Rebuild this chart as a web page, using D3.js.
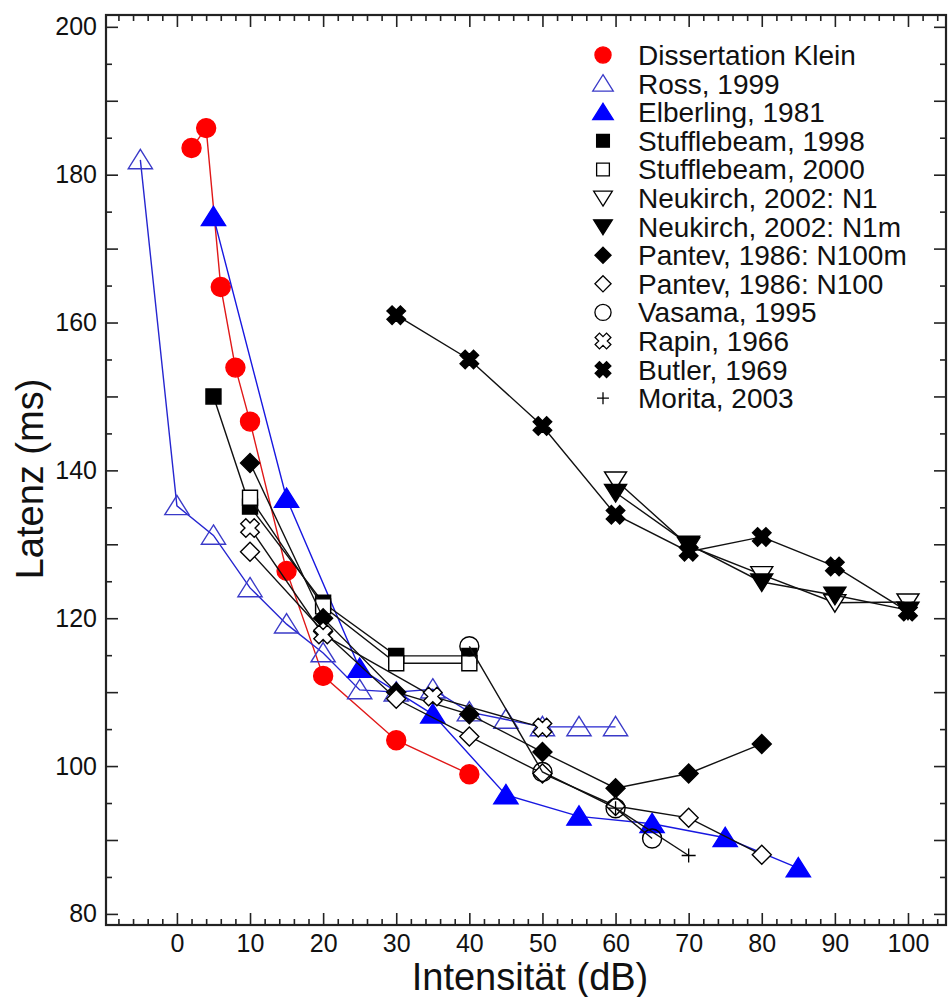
<!DOCTYPE html>
<html>
<head>
<meta charset="utf-8">
<script src="https://cdn.jsdelivr.net/npm/d3@7"></script>
<style>
  html, body { margin: 0; padding: 0; background: #fff; }
  svg { display: block; font-family: "Liberation Sans", Arial, sans-serif; }
</style>
</head>
<body>
<svg id="chart" width="948" height="997"></svg>
<script>
// ---------- data (intensity dB, latency ms) ----------
const seriesNames = ["Dissertation Klein", "Ross, 1999", "Elberling, 1981", "Stufflebeam, 1998",
  "Stufflebeam, 2000", "Neukirch, 2002: N1", "Neukirch, 2002: N1m", "Pantev, 1986: N100m",
  "Pantev, 1986: N100", "Vasama, 1995", "Rapin, 1966", "Butler, 1969", "Morita, 2003"];

const klein       = [[2,183.6],[4,186.3],[6,164.8],[8,153.9],[10,146.6],[15,126.4],[20,112.2],[30,103.5],[40,98.9]];
const ross        = [[-5,182],[0,135.2],[5,131.2],[10,124.1],[15,119.2],[20,115.3],[25,110.3],[30,110],[35,110.4],[40,107.3],[45,106.3],[50,105.3],[55,105.3],[60,105.3]];
const elberling   = [[5,174.3],[15,136.2],[25,113.2],[35,107],[45,96.1],[55,93.2],[65,92.2],[75,90.3],[85,86.2]];
const stuffle98   = [[5,150],[10,135.1],[20,122.1],[30,114.9],[40,114.9]];
const stuffle00   = [[10,136.3],[20,121.6],[30,113.9],[40,113.9]];
const neukirchN1  = [[60,138.7],[70,129.8],[80,125.9],[90,122.1],[100,122.2]];
const neukirchN1m = [[60,137],[70,130],[80,124.9],[90,123.1],[100,121.1]];
const pantevN100m = [[10,141],[20,120],[30,110],[40,107],[50,101.9],[60,97],[70,99],[80,103]];
const pantevN100  = [[10,129],[20,118.2],[30,109.1],[40,104],[50,99],[60,94.6],[70,93],[80,88]];
const vasama      = [[40,116.2],[50,99.2],[60,94.3],[65,90.2]];
const rapin       = [[10,132.2],[20,117.8],[35,109.4],[50,105.2]];
const butler      = [[30,161],[40,155],[50,146],[60,134],[70,129],[80,131],[90,127],[100,120.9]];
const morita      = [[60,94.3],[70,87.9]];

const xTickLabels = [0,10,20,30,40,50,60,70,80,90,100];
const yTickLabels = [80,100,120,140,160,180,200];

// ---------- styles ----------
const RED = "#ff0000", BLUE = "#0000ff", OBLUE = "#3a3ac8", BLK = "#000";
const series = [
  {name: seriesNames[0],  data: klein,       sym: "circle",  fill: RED,   stroke: RED,   line: "#e01818"},
  {name: seriesNames[1],  data: ross,        sym: "triUp",   fill: "none",stroke: OBLUE, line: "#2626d0"},
  {name: seriesNames[2],  data: elberling,   sym: "triUp",   fill: BLUE,  stroke: BLUE,  line: "#1818e0"},
  {name: seriesNames[3],  data: stuffle98,   sym: "square",  fill: BLK,   stroke: BLK,   line: "#111"},
  {name: seriesNames[4],  data: stuffle00,   sym: "square",  fill: "#fff",stroke: BLK,   line: "#111"},
  {name: seriesNames[5],  data: neukirchN1,  sym: "triDown", fill: "#fff",stroke: BLK,   line: "#111"},
  {name: seriesNames[6],  data: neukirchN1m, sym: "triDown", fill: BLK,   stroke: BLK,   line: "#111"},
  {name: seriesNames[7],  data: pantevN100m, sym: "diamond", fill: BLK,   stroke: BLK,   line: "#111"},
  {name: seriesNames[8],  data: pantevN100,  sym: "diamond", fill: "#fff",stroke: BLK,   line: "#111"},
  {name: seriesNames[9],  data: vasama,      sym: "circle",  fill: "none",stroke: BLK,   line: "#111"},
  {name: seriesNames[10], data: rapin,       sym: "cross",   fill: "#fff",stroke: BLK,   line: "#111"},
  {name: seriesNames[11], data: butler,      sym: "cross",   fill: BLK,   stroke: BLK,   line: "#111"},
  {name: seriesNames[12], data: morita,      sym: "plus",    fill: "none",stroke: BLK,   line: "#111"}
];

// ---------- layout ----------
const svg = d3.select("#chart");
const L = 106, R = 946, T = 15, B = 925;
const x = d3.scaleLinear().domain([-9.7, 105.2]).range([L, R]);
const y = d3.scaleLinear().domain([78.5, 201.6]).range([B, T]);

// symbol path generator, k = scale factor
function symbolPath(type, k) {
  const p = d3.path();
  if (type === "circle") {
    const r = 9.5 * k; p.arc(0, 0, r, 0, 2 * Math.PI); p.closePath();
  } else if (type === "triUp") {
    const r = 11 * k; p.moveTo(0, -r * 0.95); p.lineTo(r * 1.1, r * 0.8); p.lineTo(-r * 1.1, r * 0.8); p.closePath();
  } else if (type === "triDown") {
    const r = 10 * k; p.moveTo(0, r * 0.95); p.lineTo(r * 1.1, -r * 0.8); p.lineTo(-r * 1.1, -r * 0.8); p.closePath();
  } else if (type === "square") {
    const h = 7.5 * k; p.rect(-h, -h, 2 * h, 2 * h);
  } else if (type === "diamond") {
    const h = 9.5 * k; p.moveTo(0, -h); p.lineTo(h, 0); p.lineTo(0, h); p.lineTo(-h, 0); p.closePath();
  } else if (type === "cross") {
    const w = 3.6 * k, e = 9.5 * k;
    const pts = [[w,-e],[w,-w],[e,-w],[e,w],[w,w],[w,e],[-w,e],[-w,w],[-e,w],[-e,-w],[-w,-w],[-w,-e]];
    const c = Math.SQRT1_2;
    pts.forEach((q, i) => {
      const px = (q[0] - q[1]) * c, py = (q[0] + q[1]) * c;
      if (i === 0) p.moveTo(px, py); else p.lineTo(px, py);
    });
    p.closePath();
  } else if (type === "plus") {
    const h = 7 * k; p.moveTo(-h, 0); p.lineTo(h, 0); p.moveTo(0, -h); p.lineTo(0, h);
  }
  return p.toString();
}

// ---------- axes (ticks inward on all sides) ----------
const xMinor = d3.range(-8, 105, 2).filter(v => v % 10 !== 0);
const xMajor = d3.range(0, 101, 10);
const yMinor = d3.range(80, 201, 5).filter(v => v % 10 !== 0);
const yMajor = d3.range(80, 201, 10);
const fmtY = v => (yTickLabels.includes(v) ? String(v) : "");
const fmtX = v => (xTickLabels.includes(v) ? String(v) : "");

function styleAxis(g) {
  g.select(".domain").remove();
  g.selectAll(".tick line").attr("stroke", "#222").attr("stroke-width", 1.6);
  g.selectAll("text").attr("fill", "#111").style("font-size", "25px")
   .style("font-family", "'Liberation Sans', Arial, sans-serif");
}

// bottom
svg.append("g").attr("transform", `translate(0,${B})`)
  .call(d3.axisBottom(x).tickValues(xMinor).tickSizeInner(-6).tickSizeOuter(0).tickFormat(""))
  .call(styleAxis);
svg.append("g").attr("transform", `translate(0,${B})`)
  .call(d3.axisBottom(x).tickValues(xMajor).tickSizeInner(-12).tickSizeOuter(0).tickPadding(9).tickFormat(fmtX))
  .call(styleAxis);
// top
svg.append("g").attr("transform", `translate(0,${T})`)
  .call(d3.axisTop(x).tickValues(xMinor).tickSizeInner(-6).tickSizeOuter(0).tickFormat(""))
  .call(styleAxis);
svg.append("g").attr("transform", `translate(0,${T})`)
  .call(d3.axisTop(x).tickValues(xMajor).tickSizeInner(-12).tickSizeOuter(0).tickFormat(""))
  .call(styleAxis);
// left
svg.append("g").attr("transform", `translate(${L},0)`)
  .call(d3.axisLeft(y).tickValues(yMinor).tickSizeInner(-6).tickSizeOuter(0).tickFormat(""))
  .call(styleAxis);
svg.append("g").attr("transform", `translate(${L},0)`)
  .call(d3.axisLeft(y).tickValues(yMajor).tickSizeInner(-12).tickSizeOuter(0).tickPadding(9).tickFormat(fmtY))
  .call(styleAxis);
// right
svg.append("g").attr("transform", `translate(${R},0)`)
  .call(d3.axisRight(y).tickValues(yMinor).tickSizeInner(-6).tickSizeOuter(0).tickFormat(""))
  .call(styleAxis);
svg.append("g").attr("transform", `translate(${R},0)`)
  .call(d3.axisRight(y).tickValues(yMajor).tickSizeInner(-12).tickSizeOuter(0).tickFormat(""))
  .call(styleAxis);

// frame
svg.append("rect").attr("x", L).attr("y", T).attr("width", R - L).attr("height", B - T)
  .attr("fill", "none").attr("stroke", "#222").attr("stroke-width", 2.2);

// axis titles
svg.append("text").attr("x", 530).attr("y", 990).attr("text-anchor", "middle")
  .style("font-size", "38px").attr("fill", "#111").text("Intensität (dB)");
svg.append("text").attr("transform", "translate(43,479) rotate(-90)").attr("text-anchor", "middle")
  .style("font-size", "38px").attr("fill", "#111").text("Latenz (ms)");

// ---------- series ----------
const lineGen = d3.line().x(d => x(d[0])).y(d => y(d[1]));
const plot = svg.append("g");
series.forEach(s => {
  const g = plot.append("g");
  g.append("path").datum(s.data).attr("d", lineGen)
    .attr("fill", "none").attr("stroke", s.line).attr("stroke-width", 1.4);
  g.selectAll("path.m").data(s.data).join("path").attr("class", "m")
    .attr("transform", d => `translate(${x(d[0])},${y(d[1])})`)
    .attr("d", symbolPath(s.sym, 1))
    .attr("fill", s.fill).attr("stroke", s.stroke)
    .attr("stroke-width", s.sym === "plus" ? 1.3 : 1.4);
});

// ---------- legend ----------
const leg = svg.append("g");
series.forEach((s, i) => {
  const yy = 55 + i * 28.6;
  leg.append("path").attr("transform", `translate(603,${yy})`)
    .attr("d", symbolPath(s.sym, 0.85))
    .attr("fill", s.fill).attr("stroke", s.stroke).attr("stroke-width", 1.3);
  leg.append("text").attr("x", 638).attr("y", yy).attr("dy", "0.36em")
    .style("font-size", "28px").attr("fill", "#111").text(s.name);
});
</script>
</body>
</html>
